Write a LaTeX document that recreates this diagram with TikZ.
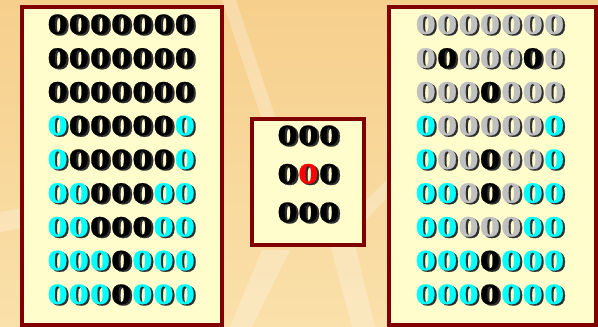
\documentclass[tikz,border=0pt]{standalone}
\usepackage{fontspec}
\setmainfont{Liberation Serif}
\newfontfamily\heavyfont{Liberation Serif Bold}[FakeBold=0.6]
\usepackage{graphicx}

\definecolor{frame}{HTML}{800000}
\definecolor{paper}{HTML}{FFFDCC}
\definecolor{bgtop}{HTML}{F6CF8C}
\definecolor{bgbot}{HTML}{FAE0AA}
\definecolor{dk}{HTML}{000000}
\definecolor{cy}{HTML}{00FFFF}
\definecolor{gy}{HTML}{C0C0C0}
\definecolor{rd}{HTML}{FF0000}
\definecolor{shade}{HTML}{2E2E2E}

% a fat zero with a small drop shadow
\newcommand\fatzero[1]{\scalebox{1.4}[1]{\makebox[0pt][l]{\hspace{1.5pt}\raisebox{-1.4pt}{\color{shade}0}}\textcolor{#1}{0}}}

\begin{document}
\begin{tikzpicture}[x=1pt,y=-1pt,
    panel/.style={draw=frame, fill=paper, line width=3.5pt},
    digit/.style={inner sep=0pt, font=\fontsize{29.5}{30}\heavyfont}]
    \shade[top color=bgtop, bottom color=bgbot] (0,0) rectangle (598,327);
    \begin{scope}[fill=white, opacity=0.25]
        \fill (222,0) -- (236,0) -- (276,119) -- (262,119) -- cycle;
        \fill (0,212) -- (22,208) -- (22,228) -- (0,232) -- cycle;
        \fill (230,327) -- (262,250) -- (290,250) -- (252,327) -- cycle;
        \fill (366,200) -- (389,178) -- (389,196) -- (366,220) -- cycle;
        \fill (330,245) -- (355,245) -- (375,327) -- (352,327) -- cycle;
    \end{scope}

    \draw[panel] (22,7) rectangle (222,325);
    \draw[panel] (252,119) rectangle (364,245);
    \draw[panel] (389,7) rectangle (596,325);

    % left panel
    \foreach \row [count=\r] in {{dk,dk,dk,dk,dk,dk,dk},{dk,dk,dk,dk,dk,dk,dk},
        {dk,dk,dk,dk,dk,dk,dk},{cy,dk,dk,dk,dk,dk,cy},{cy,dk,dk,dk,dk,dk,cy},
        {cy,cy,dk,dk,dk,cy,cy},{cy,cy,dk,dk,dk,cy,cy},{cy,cy,cy,dk,cy,cy,cy},
        {cy,cy,cy,dk,cy,cy,cy}}
        \foreach \col [count=\c] in \row
            \node[digit] (L\r\c) at ({57.6+21.2*(\c-1)},{25+33.75*(\r-1)}) {\fatzero{\col}};

    % middle panel
    \foreach \row [count=\r] in {{dk,dk,dk},{dk,rd,dk},{dk,dk,dk}}
        \foreach \col [count=\c] in \row
            \node[digit] (M\r\c) at ({287.5+20.8*(\c-1)},{136+38.5*(\r-1)}) {\fatzero{\col}};

    % right panel
    \foreach \row [count=\r] in {{gy,gy,gy,gy,gy,gy,gy},{gy,dk,gy,gy,gy,dk,gy},
        {gy,gy,gy,dk,gy,gy,gy},{cy,gy,gy,gy,gy,gy,cy},{cy,gy,gy,dk,gy,gy,cy},
        {cy,cy,gy,dk,gy,cy,cy},{cy,cy,gy,gy,gy,cy,cy},{cy,cy,cy,dk,cy,cy,cy},
        {cy,cy,cy,dk,cy,cy,cy}}
        \foreach \col [count=\c] in \row
            \node[digit] (R\r\c) at ({425.7+21.4*(\c-1)},{25+33.75*(\r-1)}) {\fatzero{\col}};
\end{tikzpicture}
\end{document}
